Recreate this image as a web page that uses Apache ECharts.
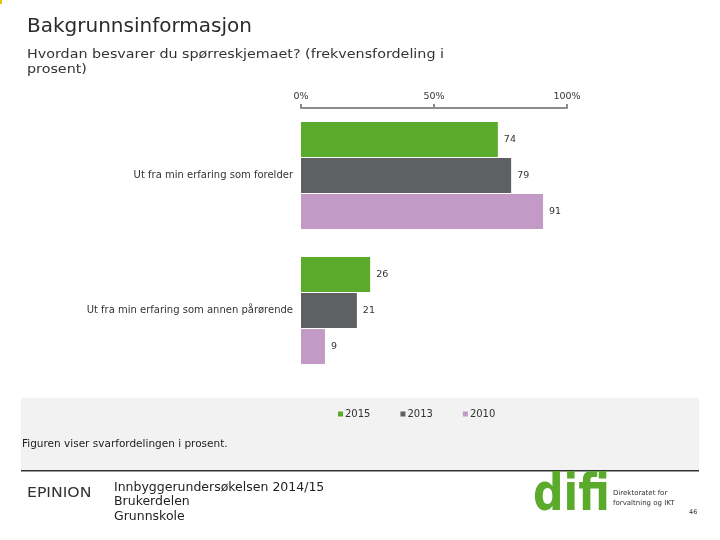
<!DOCTYPE html>
<html><head><meta charset="utf-8">
<script src="https://cdn.jsdelivr.net/npm/echarts@6/dist/echarts.min.js"></script>
<style>html,body{margin:0;padding:0;background:#fff}#c{width:720px;height:540px}</style>
</head><body><div id="c"></div>
<script>
const categories = ["Ut fra min erfaring som forelder", "Ut fra min erfaring som annen pårørende"];
const seriesNames = ["2015", "2013", "2010"];
const values2015 = [74, 26];
const values2013 = [79, 21];
const values2010 = [91, 9];
const tickLabels = ["0%", "50%", "100%"];
const colors = ["#5aab2c", "#5f6062", "#c29ac5"];

const font = "DejaVu Sans";
const chart = echarts.init(document.getElementById('c'), null, {renderer: 'canvas'});
const data = [values2015, values2013, values2010];
chart.setOption({
  animation: false,
  backgroundColor: '#ffffff',
  grid: {left: 301, right: 153, top: 108, height: 270, containLabel: false},
  xAxis: {
    type: 'value', position: 'top', min: 0, max: 100, interval: 50,
    axisLine: {show: true, lineStyle: {color: '#8c8c8c', width: 2}},
    axisTick: {show: true, length: 4, lineStyle: {color: '#8c8c8c', width: 2}},
    splitLine: {show: false},
    axisLabel: {margin: 6, fontFamily: font, fontSize: 9.5, color: '#333',
      formatter: v => tickLabels[Math.round(v / 50)]}
  },
  yAxis: {
    type: 'category', inverse: true, data: categories,
    axisLine: {show: false}, axisTick: {show: false},
    axisLabel: {margin: 8, fontFamily: font, fontSize: 10, color: '#333'}
  },
  legend: {
    data: seriesNames, left: 333, top: 404, itemWidth: 5, itemHeight: 5, itemGap: 30,
    icon: 'rect', textStyle: {fontFamily: font, fontSize: 10, color: '#333', padding: [0,0,0,-3]}
  },
  series: seriesNames.map((n, i) => ({
    name: n, type: 'bar', data: data[i], barWidth: 35, barGap: '3%',
    itemStyle: {color: colors[i]},
    label: {show: true, position: 'right', distance: 6, fontFamily: font, fontSize: 9.5, color: '#333'}
  })),
  graphic: [
    {type: 'rect', z: -10, shape: {x: 21, y: 398, width: 678, height: 72}, style: {fill: '#f2f2f2'}},
    {type: 'rect', z: -9, shape: {x: 21, y: 470, width: 678, height: 1.5}, style: {fill: '#333'}},
    {type: 'rect', shape: {x: 0, y: 0, width: 2, height: 4}, style: {fill: '#e8c000'}},
    {type: 'text', left: 27, top: 17, style: {text: 'Bakgrunnsinformasjon', font: '20px "DejaVu Sans"', fill: '#2b2b2b'}},
    {type: 'text', left: 27, top: 47, style: {text: 'Hvordan besvarer du spørreskjemaet? (frekvensfordeling i\nprosent)', font: '13px "DejaVu Sans"', lineHeight: 15, fill: '#333'}, scaleX: 1.1},
    {type: 'text', left: 22, top: 439, style: {text: 'Figuren viser svarfordelingen i prosent.', font: '10.5px "DejaVu Sans"', fill: '#222'}},
    {type: 'text', x: 27, y: 486, scaleX: 1.12, style: {text: 'EPINIΟN', font: '14px "DejaVu Sans"', fill: '#333'}},
    {type: 'text', left: 114, top: 480, style: {text: 'Innbyggerundersøkelsen 2014/15\nBrukerdelen\nGrunnskole', font: '12.5px "DejaVu Sans"', lineHeight: 14.5, fill: '#222'}},
    {type: 'text', x: 533, y: 470, scaleX: 0.82, style: {text: 'difi', font: 'bold 52px "DejaVu Sans"', fill: '#5aab2c'}},
    {type: 'text', left: 613, top: 488, style: {text: 'Direktoratet for\nforvaltning og IKT', font: '7px "DejaVu Sans"', lineHeight: 10, fill: '#333'}},
    {type: 'text', left: 689, top: 509, style: {text: '46', font: '6.5px "DejaVu Sans"', fill: '#333'}}
  ]
});
</script></body></html>
